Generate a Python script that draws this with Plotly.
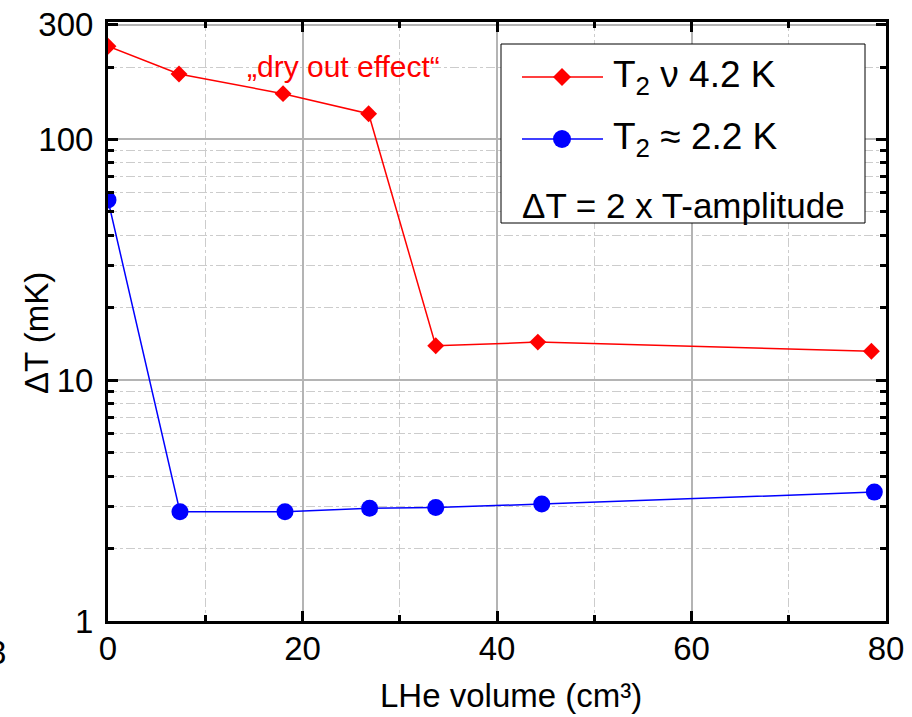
import plotly.graph_objects as go

# ---- data ----
x_red = [0, 7.3, 18.0, 26.8, 33.7, 44.2, 78.5]
y_red = [244, 187, 155, 128, 13.9, 14.4, 13.2]
x_blue = [0, 7.4, 18.2, 26.9, 33.7, 44.6, 78.8]
y_blue = [56, 2.84, 2.84, 2.94, 2.96, 3.06, 3.43]

name_red = "T<sub>2</sub> ν 4.2 K"
name_blue = "T<sub>2</sub> ≈ 2.2 K"
legend_note = "ΔT = 2 x T-amplitude"
x_ticks = [0, 20, 40, 60, 80]
y_ticks = [1, 10, 100, 300]
y_minor = [2, 3, 4, 5, 6, 7, 8, 9, 20, 30, 40, 50, 60, 70, 80, 90, 200]

FONT = "Liberation Sans, Arial, sans-serif"
W, H = 912, 717
L, R, T, B = 108, 26, 22, 96
PW, PH = W - L - R, H - T - B


def px(xp):
    return (xp - L) / PW


def py(yp):
    return (H - B - yp) / PH


fig = go.Figure()
fig.add_trace(go.Scatter(x=x_red, y=y_red, mode="lines+markers", name=name_red,
                         line=dict(color="#ff0000", width=1.5),
                         marker=dict(symbol="diamond", size=13, color="#ff0000"),
                         showlegend=False))
fig.add_trace(go.Scatter(x=x_blue, y=y_blue, mode="lines+markers", name=name_blue,
                         line=dict(color="#0000ff", width=1.5),
                         marker=dict(symbol="circle", size=17, color="#0000ff"),
                         showlegend=False))

axis_common = dict(
    showline=True, linecolor="black", linewidth=3, mirror="ticks",
    ticks="inside", ticklen=10, tickwidth=3, tickcolor="black",
    showgrid=True, gridcolor="#b4b4b4", gridwidth=1.5,
    zeroline=False,
    tickfont=dict(family=FONT, size=33, color="black"),
)

fig.update_xaxes(
    range=[0, 80], tickmode="array", tickvals=x_ticks,
    ticktext=[str(v) for v in x_ticks], ticklabelstandoff=-4,
    minor=dict(dtick=10, ticks="inside", ticklen=6, tickwidth=3, tickcolor="black",
               showgrid=True, griddash="dashdot", gridcolor="#cccccc", gridwidth=1.2),
    **axis_common,
)
fig.update_yaxes(
    type="log", range=[0, 2.488], tickmode="array", tickvals=y_ticks,
    ticktext=[str(v) for v in y_ticks], ticklabelstandoff=5,
    minor=dict(tickmode="array", tickvals=y_minor, ticks="inside", ticklen=6, tickwidth=3,
               tickcolor="black", showgrid=True, griddash="dashdot",
               gridcolor="#cccccc", gridwidth=1.2),
    **axis_common,
)

shapes = []
# legend box
shapes.append(dict(type="rect", xref="paper", yref="paper",
                   x0=px(501), x1=px(865), y0=py(223), y1=py(44),
                   line=dict(color="black", width=1), fillcolor="white", layer="above"))
# legend samples
for yy, col in [(77, "#ff0000"), (139, "#0000ff")]:
    shapes.append(dict(type="line", xref="paper", yref="paper",
                       x0=px(522), x1=px(603), y0=py(yy), y1=py(yy),
                       line=dict(color=col, width=1.5), layer="above"))
shapes.append(dict(type="path", xref="paper", yref="paper", xsizemode="pixel", ysizemode="pixel",
                   xanchor=px(562), yanchor=py(77), path="M0,9 L9,0 L0,-9 L-9,0 Z",
                   fillcolor="#ff0000", line=dict(width=0), layer="above"))
shapes.append(dict(type="circle", xref="paper", yref="paper", xsizemode="pixel", ysizemode="pixel",
                   xanchor=px(562), yanchor=py(139), x0=-9, x1=9, y0=-9, y1=9,
                   fillcolor="#0000ff", line=dict(width=0), layer="above"))

annotations = [
    dict(text=name_red, x=px(611), y=py(77), xanchor="left", yanchor="middle",
         font=dict(family=FONT, size=37, color="black")),
    dict(text=name_blue, x=px(611), y=py(139), xanchor="left", yanchor="middle",
         font=dict(family=FONT, size=37, color="black")),
    dict(text=legend_note, x=px(520), y=py(205), xanchor="left", yanchor="middle",
         font=dict(family=FONT, size=35, color="black")),
    dict(text="„dry out effect“", x=px(343), y=py(66), xanchor="center", yanchor="middle",
         font=dict(family=FONT, size=30, color="#ff0000")),
    dict(text="ΔT (mK)", x=px(37), y=py(333), textangle=-90, xanchor="center", yanchor="middle",
         font=dict(family=FONT, size=33, color="black")),
    dict(text="LHe volume (cm³)", x=px(511), y=py(695), xanchor="center", yanchor="middle",
         font=dict(family=FONT, size=33, color="black")),
    dict(text="3", x=px(8), y=py(652), xanchor="right", yanchor="middle",
         font=dict(family=FONT, size=33, color="black")),
]
for a in annotations:
    a.update(xref="paper", yref="paper", showarrow=False)

fig.update_layout(
    width=W, height=H,
    margin=dict(l=L, r=R, t=T, b=B, autoexpand=False),
    paper_bgcolor="white", plot_bgcolor="white",
    shapes=shapes, annotations=annotations,
    showlegend=False,
    font=dict(family=FONT),
)

fig.write_html("out.html")
